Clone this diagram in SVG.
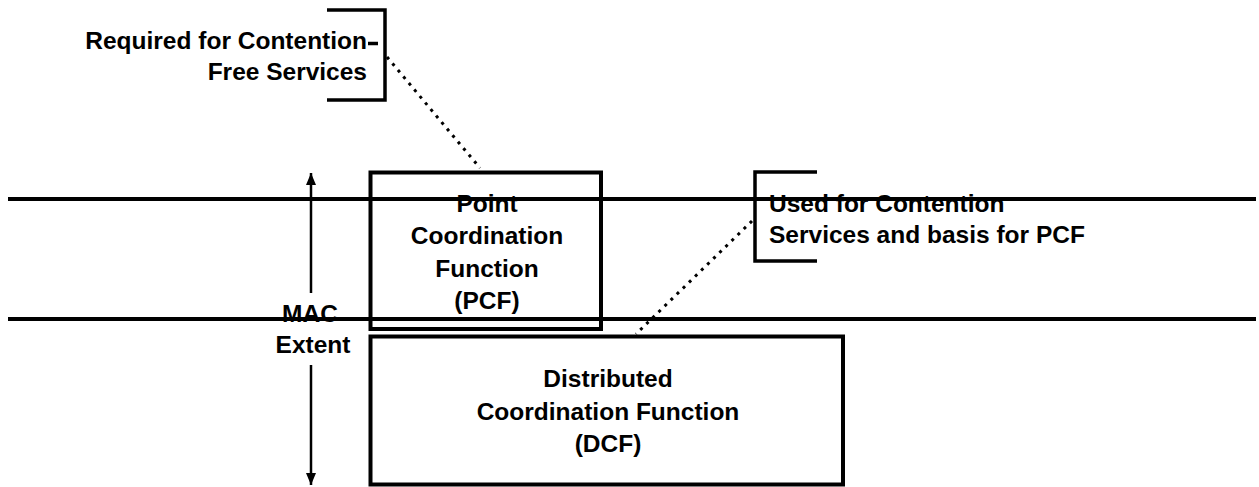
<svg xmlns="http://www.w3.org/2000/svg" width="1259" height="487" viewBox="0 0 1259 487">
  <style>
    .bg { fill: #ffffff; }
    .rule { stroke: #000; stroke-width: 4; fill: none; }
    .box { stroke: #000; stroke-width: 4; fill: none; }
    .bracket { stroke: #000; stroke-width: 3.5; fill: none; }
    .dots { stroke: #000; stroke-width: 3; fill: none; stroke-dasharray: 3 5.5; }
    .axis { stroke: #000; stroke-width: 2.5; fill: none; }
    .lbl { font-family: "Liberation Sans", Arial, sans-serif; font-size: 24.5px; font-weight: bold; fill: #000; }
    .mid { text-anchor: middle; }
    .end { text-anchor: end; }
  </style>
  <defs>
    <marker id="head" viewBox="0 0 12 10" refX="12" refY="5" markerWidth="12" markerHeight="10" markerUnits="userSpaceOnUse" orient="auto">
      <path d="M0 0 L12 5 L0 10 Z" fill="#000"/>
    </marker>
  </defs>

  <rect class="bg" x="0" y="0" width="1259" height="487"/>

  <!-- layer boundary rules spanning the page -->
  <g id="rules">
    <line class="rule" x1="8" y1="199" x2="1256" y2="199"/>
    <line class="rule" x1="8" y1="319" x2="1256" y2="319"/>
  </g>

  <!-- MAC extent indicator -->
  <g id="mac-extent">
    <path class="axis" d="M311 293 V173" marker-end="url(#head)"/>
    <path class="axis" d="M311 365 V485" marker-end="url(#head)"/>
    <text class="lbl mid" x="310" y="321.5">MAC</text>
    <text class="lbl mid" x="313" y="353">Extent</text>
  </g>

  <!-- Point Coordination Function -->
  <g id="pcf">
    <rect class="box" x="370.5" y="172.5" width="230.5" height="156.5"/>
    <text class="lbl mid" x="487" y="211.5">Point</text>
    <text class="lbl mid" x="487" y="244">Coordination</text>
    <text class="lbl mid" x="487" y="276.5">Function</text>
    <text class="lbl mid" x="487" y="308.5">(PCF)</text>
  </g>

  <!-- Distributed Coordination Function -->
  <g id="dcf">
    <rect class="box" x="370.5" y="336.5" width="472.5" height="148"/>
    <text class="lbl mid" x="608" y="387">Distributed</text>
    <text class="lbl mid" x="608" y="419.5">Coordination Function</text>
    <text class="lbl mid" x="608" y="452">(DCF)</text>
  </g>

  <!-- note: contention free services -->
  <g id="note-pcf">
    <path class="bracket" d="M327 10 H385 V100 H327"/>
    <line class="bracket" x1="368" y1="43.5" x2="378" y2="43.5"/>
    <text class="lbl end" x="367" y="48.5">Required for Contention</text>
    <text class="lbl end" x="367" y="80">Free Services</text>
  </g>

  <!-- note: contention services -->
  <g id="note-dcf">
    <path class="bracket" d="M817 172 H755 V261 H817"/>
    <text class="lbl" x="769" y="211.5">Used for Contention</text>
    <text class="lbl" x="769" y="243">Services and basis for PCF</text>
  </g>

  <!-- dotted leaders from notes to boxes -->
  <g id="connectors">
    <line class="dots" x1="387" y1="57" x2="480" y2="168"/>
    <line class="dots" x1="752" y1="221" x2="636" y2="334"/>
  </g>
</svg>
